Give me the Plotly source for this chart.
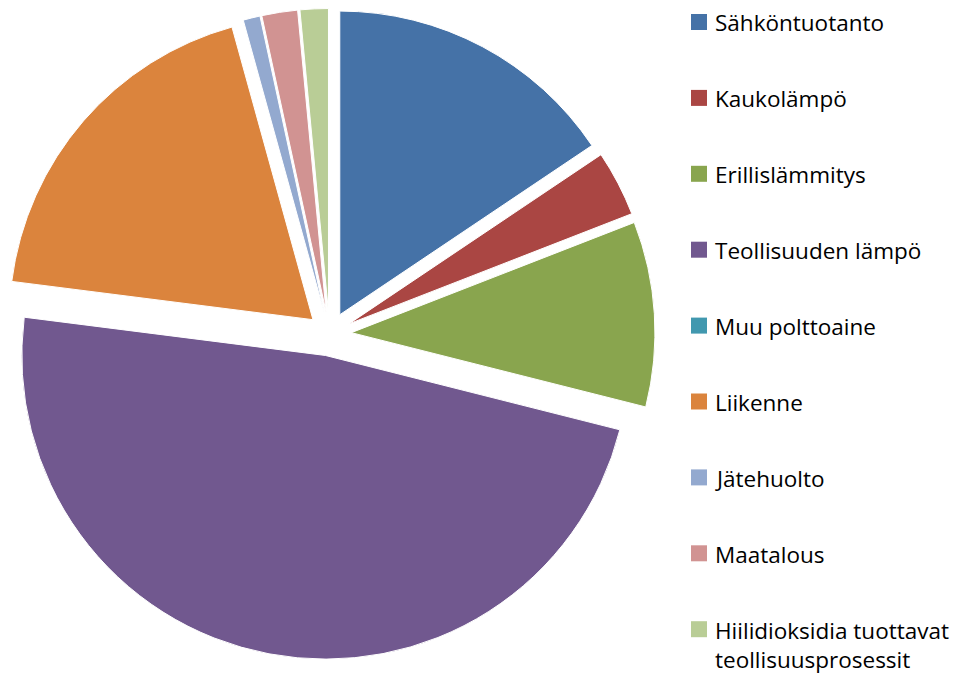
import plotly.graph_objects as go

labels = ["Sähköntuotanto", "Kaukolämpö", "Erillislämmitys", "Teollisuuden lämpö",
          "Muu polttoaine", "Liikenne", "Jätehuolto", "Maatalous",
          "Hiilidioksidia tuottavat teollisuusprosessit"]
legend_text = ["Sähköntuotanto", "Kaukolämpö", "Erillislämmitys", "Teollisuuden lämpö",
               "Muu polttoaine", "Liikenne", "Jätehuolto", "Maatalous",
               "Hiilidioksidia tuottavat<br>teollisuusprosessit"]
values = [15.6, 3.5, 9.85, 48.1, 0.0, 18.7, 0.9, 1.9, 1.5]
colors = ["#4572A7", "#AA4643", "#89A54E", "#71588F", "#4198AF",
          "#DB843D", "#93A9CF", "#D19392", "#B9CD96"]

W, H = 965, 675
fig = go.Figure()
fig.add_trace(go.Pie(
    labels=labels, values=values, sort=False, direction="clockwise", rotation=0,
    marker=dict(colors=colors, line=dict(color="white", width=1)),
    pull=[0.072] * len(values), textinfo="none", hoverinfo="label+percent",
    showlegend=False,
    domain=dict(x=[4 / W, 655 / W], y=[(H - 659.5) / H, (H - 8.5) / H]),
))

fsize = 22.5
font = dict(family="Open Sans, Lato, sans-serif", size=fsize, color="#000000")
y0, step = 22, 75.9
shapes, annotations = [], []
for i, (t, c) in enumerate(zip(legend_text, colors)):
    yc = y0 + i * step
    shapes.append(dict(type="rect", xref="paper", yref="paper",
                       x0=691 / W, x1=707 / W, y0=(H - yc - 8) / H, y1=(H - yc + 8) / H,
                       fillcolor=c, line=dict(width=0)))
    nlines = t.count("<br>") + 1
    ymid = yc + 1 + (nlines - 1) * 1.3 * fsize / 2
    annotations.append(dict(text=t, xref="paper", yref="paper", x=713 / W,
                            y=(H - ymid) / H, xanchor="left", yanchor="middle",
                            showarrow=False, align="left", font=font))

fig.update_layout(width=W, height=H, margin=dict(l=0, r=0, t=0, b=0),
                  paper_bgcolor="white", plot_bgcolor="white",
                  shapes=shapes, annotations=annotations)
fig.write_html("out.html", config={"displayModeBar": False},
               post_script="document.body.style.margin='0';")
